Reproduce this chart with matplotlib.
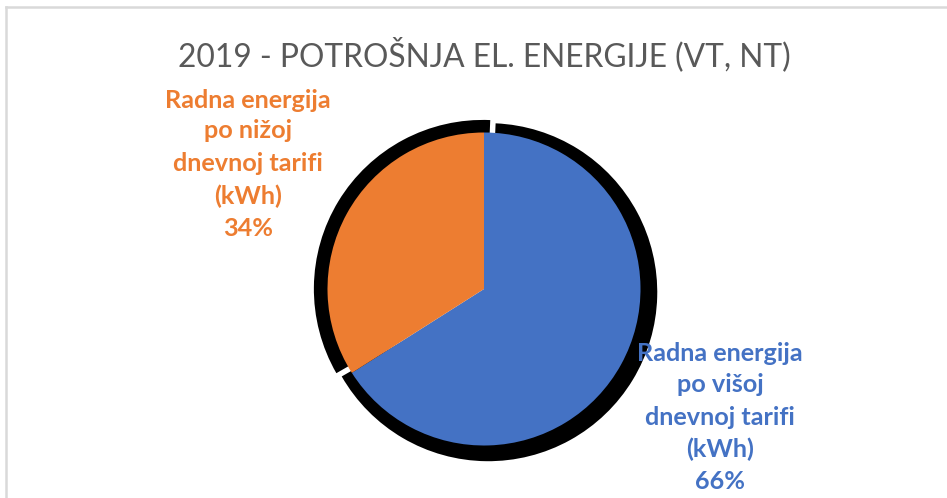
import matplotlib
matplotlib.use("Agg")
import matplotlib.pyplot as plt
from matplotlib.lines import Line2D

# ---- data ----
title = "2019 - POTROŠNJA EL. ENERGIJE (VT, NT)"
categories = ["Radna energija po višoj dnevnoj tarifi (kWh)",
              "Radna energija po nižoj dnevnoj tarifi (kWh)"]
values = [66, 34]
label_lines_blue = ["Radna energija", "po višoj", "dnevnoj tarifi", "(kWh)", "66%"]
label_lines_orange = ["Radna energija", "po nižoj", "dnevnoj tarifi", "(kWh)", "34%"]
colors = ["#4472C4", "#ED7D31"]

W, H = 947, 498
fig = plt.figure(figsize=(W / 100, H / 100), dpi=100)
fig.patch.set_facecolor("white")

# pie geometry in pixels
cx, cy, r = 484, 289, 156.5
ax = fig.add_axes([0, 0, 1, 1])
ax.set_aspect("equal", adjustable="box")
ax.axis("off")

# shadow
ax.pie(values, radius=1.08, startangle=87.5, counterclock=False,
       explode=(0.02, 0.02), colors=["black", "black"], center=(0.01, -0.01),
       wedgeprops=dict(linewidth=0))
# main pie
ax.pie(values, radius=1.0, startangle=90, counterclock=False,
       colors=colors, wedgeprops=dict(linewidth=0))
ax.set_xlim(-cx / r, (W - cx) / r)
ax.set_ylim(-(H - cy) / r, cy / r)

# border (top and left only visible)
fig.add_artist(Line2D([6 / W, 1.0], [1 - 7 / H, 1 - 7 / H], transform=fig.transFigure,
                      color="#D9D9D9", lw=1.8))
fig.add_artist(Line2D([6 / W, 6 / W], [1 - 7 / H, 0], transform=fig.transFigure,
                      color="#D9D9D9", lw=1.8))

renderer = fig.canvas.get_renderer()

def fit_text(x, y, s, target_w, **kw):
    t = fig.text(x / W, 1 - y / H, s, ha="center", va="center", **kw)
    fs = t.get_fontsize()
    w = t.get_window_extent(renderer).width
    t.set_fontsize(fs * target_w / w)
    return t

fam = ["Lato", "DejaVu Sans"]
fit_text(484, 55, title, 612, family=fam, fontweight="normal", color="#595959", fontsize=28)

def label(xc, ys, lines, color):
    t0 = fit_text(xc, ys[0], lines[0], 166, family=fam, fontweight="bold", color=color, fontsize=15)
    fs = t0.get_fontsize()
    for yy, s in zip(ys[1:], lines[1:]):
        fig.text(xc / W, 1 - yy / H, s, ha="center", va="center", family=fam,
                 fontweight="bold", color=color, fontsize=fs)

label(248, [100, 131, 163, 196, 228], label_lines_orange, colors[1])
label(720, [353, 385, 417, 449, 481], label_lines_blue, colors[0])

fig.savefig("out.png", dpi=100, facecolor="white")
